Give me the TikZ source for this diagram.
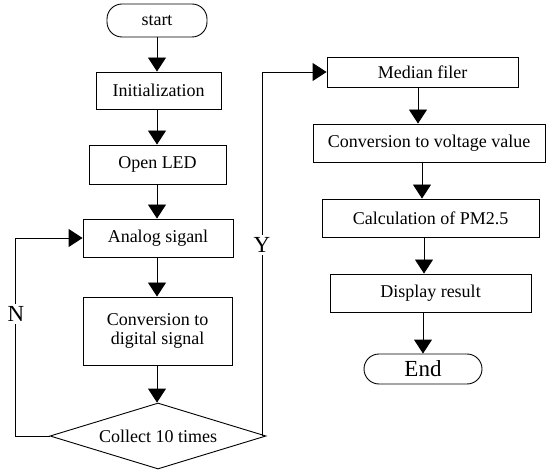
\documentclass[tikz,border=0pt]{standalone}
\usepackage{fontspec}
\setmainfont{Liberation Serif}
\usetikzlibrary{shapes.geometric,arrows.meta}
\begin{document}
\begin{tikzpicture}[x=1pt,y=-1pt,
  box/.style={draw, line width=0.9pt, inner sep=0pt, font=\fontsize{18}{19}\selectfont, align=center},
  term/.style={box, rounded corners=15pt},
  arr/.style={-{Triangle[length=14pt,width=18pt]}, line width=0.9pt},
  lab/.style={font=\fontsize{23}{25}\selectfont, fill=white, inner sep=2pt}]
\useasboundingbox (0,0) rectangle (546,470);
% left column
\node[term, minimum width=100pt, minimum height=33pt] (start) at (157,20.5) {start};
\node[box, minimum width=125pt, minimum height=37pt] (init) at (158.5,90.5) {Initialization};
\node[box, minimum width=137pt, minimum height=39pt] (led) at (157.5,164.5) {Open LED};
\node[box, minimum width=150pt, minimum height=38pt] (analog) at (158,238) {Analog siganl};
\node[box, minimum width=149pt, minimum height=68pt] (conv) at (157.5,331) {Conversion to\\digital signal};
\node[box, diamond, aspect=3.27, minimum width=216pt, minimum height=66pt] (dia) at (158,436) {Collect 10 times};
% right column
\node[box, minimum width=191pt, minimum height=30pt] (med) at (422.5,72) {Median filer};
\node[box, minimum width=232pt, minimum height=38pt] (volt) at (429,143) {Conversion to voltage value};
\node[box, minimum width=217pt, minimum height=38pt] (calc) at (430.5,218) {Calculation of PM2.5};
\node[box, minimum width=201pt, minimum height=38pt] (disp) at (430.5,293) {Display result};
\node[term, minimum width=118pt, minimum height=30pt, font=\fontsize{23}{25}\selectfont] (end) at (423,369) {End};
% connectors left
\draw[arr] (start.south) -- (start.south |- init.north);
\draw[arr] (init.south -| start.south) -- (start.south |- led.north);
\draw[arr] (led.south -| start.south) -- (start.south |- analog.north);
\draw[arr] (analog.south -| start.south) -- (start.south |- conv.north);
\draw[arr] (conv.south -| start.south) -- (start.south |- dia.north);
% loop N
\draw[arr] (dia.west) -- ++(-34,0) |- (analog.west);
\node[lab] (nlab) at (16,314) {N};
% Y branch
\coordinate (yc) at (262,436);
\draw[arr] (yc) |- (med.west);
\node[lab] (ylab) at (262,245) {Y};
% connectors right
\draw[arr] ([xshift=-4.5pt]med.south) -- ([xshift=-4.5pt]med.south |- volt.north);
\draw[arr] ([xshift=-7pt]volt.south) -- ([xshift=-7pt]volt.south |- calc.north);
\draw[arr] ([xshift=-6.5pt]calc.south) -- ([xshift=-6.5pt]calc.south |- disp.north);
\draw[arr] (end.north |- disp.south) -- (end.north);
\end{tikzpicture}
\end{document}
